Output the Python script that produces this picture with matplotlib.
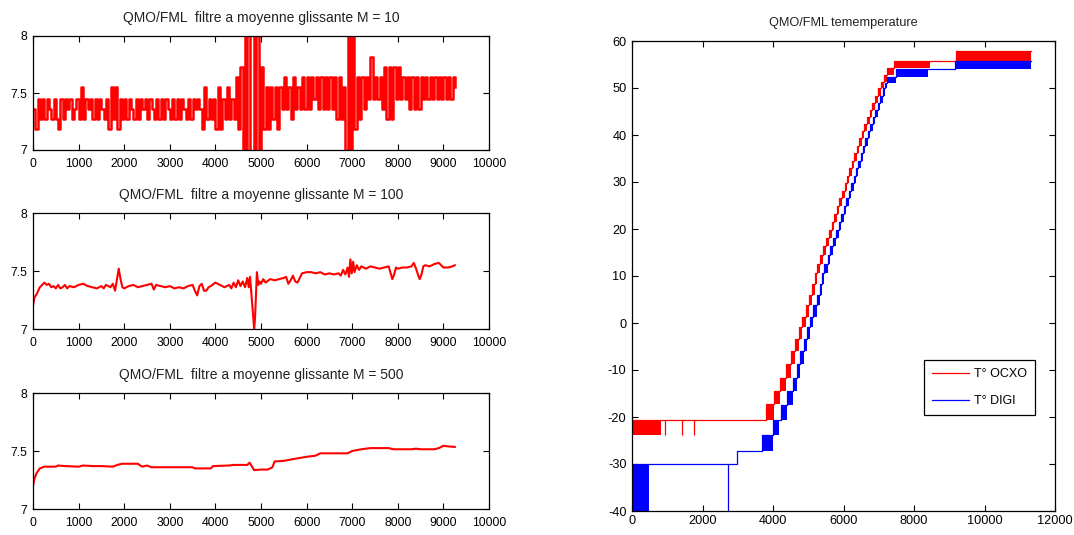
import numpy as np
import matplotlib
matplotlib.use("Agg")
import matplotlib.pyplot as plt

plt.rcParams['font.family'] = ['Liberation Sans', 'DejaVu Sans']
plt.rcParams['axes.unicode_minus'] = False

# ---- left column: QMO/FML after moving-average filters ----
# M = 10 : quantised signal, one reading every 50 samples
m10_step = 50
m10_y = [
    7.36, 7.18, 7.45, 7.27, 7.45, 7.27, 7.45, 7.36, 7.27, 7.45,
    7.27, 7.18, 7.45, 7.27, 7.45, 7.36, 7.45, 7.27, 7.36, 7.45,
    7.27, 7.55, 7.27, 7.45, 7.36, 7.45, 7.27, 7.45, 7.27, 7.45,
    7.36, 7.27, 7.45, 7.18, 7.55, 7.27, 7.55, 7.18, 7.45, 7.27,
    7.45, 7.27, 7.45, 7.36, 7.27, 7.45, 7.27, 7.45, 7.36, 7.45,
    7.27, 7.45, 7.36, 7.27, 7.45, 7.27, 7.45, 7.27, 7.45, 7.36,
    7.27, 7.45, 7.27, 7.45, 7.27, 7.45, 7.36, 7.27, 7.45, 7.27,
    7.45, 7.36, 7.45, 7.36, 7.18, 7.55, 7.27, 7.45, 7.27, 7.45,
    7.18, 7.55, 7.18, 7.45, 7.27, 7.55, 7.27, 7.45, 7.27, 7.64,
    7.18, 7.73, 6.8, 8.2, 6.8, 8.2, 8.3, 6.8, 8.2, 6.9,
    7.73, 7.18, 7.55, 7.18, 7.55, 7.27, 7.55, 7.18, 7.55, 7.36,
    7.64, 7.36, 7.55, 7.27, 7.64, 7.36, 7.55, 7.36, 7.64, 7.36,
    7.64, 7.36, 7.64, 7.45, 7.64, 7.36, 7.64, 7.36, 7.64, 7.36,
    7.64, 7.36, 7.64, 7.27, 7.64, 7.27, 7.55, 6.8, 8.2, 6.8,
    8.2, 7.18, 7.64, 7.27, 7.64, 7.36, 7.64, 7.45, 7.82, 7.45,
    7.64, 7.45, 7.64, 7.36, 7.73, 7.27, 7.73, 7.27, 7.73, 7.45,
    7.73, 7.45, 7.64, 7.45, 7.64, 7.36, 7.64, 7.36, 7.64, 7.36,
    7.64, 7.45, 7.64, 7.45, 7.64, 7.45, 7.64, 7.45, 7.64, 7.45,
    7.64, 7.45, 7.64, 7.45, 7.64, 7.55,
]

# M = 100
m100_x = [0, 30, 80, 150, 250, 300, 350, 400, 450, 500,
          550, 600, 650, 700, 750, 800, 900, 1000, 1100, 1200,
          1300, 1400, 1500, 1550, 1600, 1700, 1750, 1800, 1850, 1880,
          1920, 1960, 2000, 2100, 2200, 2300, 2400, 2500, 2600, 2650,
          2700, 2800, 2900, 3000, 3100, 3200, 3300, 3400, 3500, 3550,
          3600, 3650, 3700, 3750, 3800, 3850, 3900, 4000, 4100, 4200,
          4300, 4350, 4400, 4450, 4500, 4550, 4600, 4650, 4700, 4730,
          4760, 4790, 4820, 4850, 4870, 4890, 4910, 4940, 4970, 5000,
          5050, 5100, 5200, 5300, 5400, 5500, 5550, 5600, 5650, 5700,
          5750, 5800, 5850, 5900, 6000, 6100, 6200, 6300, 6400, 6500,
          6600, 6700, 6750, 6800, 6850, 6900, 6930, 6960, 6990, 7020,
          7050, 7100, 7150, 7200, 7300, 7400, 7500, 7600, 7700, 7800,
          7850, 7880, 7920, 7960, 8000, 8100, 8200, 8300, 8350, 8400,
          8450, 8480, 8520, 8560, 8600, 8700, 8800, 8900, 9000, 9100,
          9200, 9250]
m100_y = [7.20, 7.27, 7.30, 7.36, 7.40, 7.38, 7.39, 7.36, 7.37, 7.35,
          7.38, 7.35, 7.36, 7.38, 7.35, 7.37, 7.36, 7.38, 7.39, 7.37,
          7.36, 7.35, 7.37, 7.35, 7.38, 7.36, 7.39, 7.33, 7.45, 7.52,
          7.43, 7.36, 7.35, 7.37, 7.38, 7.36, 7.37, 7.38, 7.39, 7.34,
          7.38, 7.37, 7.36, 7.37, 7.35, 7.36, 7.35, 7.37, 7.38, 7.33,
          7.29, 7.37, 7.39, 7.33, 7.33, 7.36, 7.37, 7.40, 7.38, 7.36,
          7.38, 7.35, 7.40, 7.36, 7.42, 7.37, 7.41, 7.36, 7.44, 7.36,
          7.45, 7.30, 7.15, 7.00, 7.10, 7.30, 7.49, 7.38, 7.41, 7.39,
          7.43, 7.40, 7.43, 7.42, 7.43, 7.44, 7.45, 7.39, 7.42, 7.46,
          7.41, 7.40, 7.44, 7.48, 7.49, 7.49, 7.48, 7.49, 7.47, 7.48,
          7.47, 7.48, 7.46, 7.51, 7.47, 7.53, 7.45, 7.60, 7.48, 7.58,
          7.49, 7.55, 7.51, 7.54, 7.52, 7.54, 7.53, 7.52, 7.53, 7.54,
          7.47, 7.43, 7.47, 7.53, 7.52, 7.53, 7.53, 7.54, 7.57, 7.52,
          7.46, 7.43, 7.47, 7.54, 7.55, 7.54, 7.56, 7.57, 7.53, 7.53,
          7.54, 7.55]

# M = 500
m500_x = [0, 30, 80, 150, 250, 500, 550, 700, 1000, 1100,
          1300, 1500, 1750, 1850, 1950, 2300, 2350, 2400, 2500, 2600,
          3500, 3550, 3900, 3950, 4300, 4400, 4700, 4750, 4850, 5000,
          5150, 5250, 5300, 5500, 5700, 6000, 6200, 6300, 6700, 6900,
          7000, 7200, 7400, 7800, 7900, 8300, 8400, 8500, 8800, 8900,
          9000, 9100, 9250]
m500_y = [7.20, 7.26, 7.31, 7.35, 7.365, 7.365, 7.375, 7.37, 7.365, 7.375,
          7.37, 7.37, 7.365, 7.38, 7.39, 7.39, 7.375, 7.365, 7.375, 7.36,
          7.36, 7.35, 7.35, 7.37, 7.375, 7.38, 7.38, 7.40, 7.335, 7.34,
          7.34, 7.36, 7.41, 7.415, 7.43, 7.45, 7.46, 7.48, 7.48, 7.48,
          7.50, 7.515, 7.525, 7.525, 7.515, 7.515, 7.52, 7.515, 7.515, 7.525,
          7.545, 7.54, 7.535]

# ---- right: temperatures, quantised staircase ----
# each block starts at *_x[i], spans *_lo[i]..*_hi[i] until *_x[i+1]
ocxo_x = [0, 830, 3790, 4040, 4200, 4370, 4510, 4620, 4750, 4830,
          4940, 5030, 5110, 5180, 5250, 5340, 5420, 5500, 5580, 5660,
          5730, 5810, 5880, 5960, 6030, 6100, 6170, 6240, 6310, 6380,
          6450, 6520, 6590, 6670, 6740, 6820, 6900, 6980, 7060, 7140,
          7220, 7420, 8450, 9200, 11320]
ocxo_lo = [-23.8, -20.7, -20.7, -17.3, -14.4, -11.6, -8.7, -5.9, -3.4, -0.9,
           1.3, 3.8, 6.0, 8.4, 10.6, 12.6, 14.5, 16.3, 18.1, 19.8,
           21.5, 23.2, 24.9, 26.5, 28.1, 29.7, 31.3, 32.9, 34.5, 36.1,
           37.7, 39.3, 40.9, 42.4, 43.9, 45.4, 46.9, 48.4, 49.9, 51.3,
           52.7, 54.2, 55.7, 55.7]
ocxo_hi = [-20.7, -20.7, -17.3, -14.4, -11.6, -8.7, -5.9, -3.4, -0.9, 1.3,
           3.8, 6.0, 8.4, 10.6, 12.6, 14.5, 16.3, 18.1, 19.8, 21.5,
           23.2, 24.9, 26.5, 28.1, 29.7, 31.3, 32.9, 34.5, 36.1, 37.7,
           39.3, 40.9, 42.4, 43.9, 45.4, 46.9, 48.4, 49.9, 51.3, 52.7,
           54.2, 55.7, 55.7, 57.8]
ocxo_spike_x = [950, 1430, 1750]
ocxo_spike_lo = -23.8

digi_x = [0, 470, 2970, 3680, 4010, 4170, 4230, 4390, 4560, 4680,
          4780, 4880, 4960, 5050, 5140, 5240, 5330, 5400, 5460, 5550,
          5630, 5710, 5790, 5860, 5940, 6010, 6080, 6150, 6220, 6290,
          6350, 6420, 6490, 6560, 6620, 6690, 6760, 6830, 6900, 6970,
          7040, 7110, 7170, 7230, 7480, 8400, 9160, 11320]
digi_lo = [-43, -30, -27.2, -27.2, -23.9, -20.7, -20.7, -17.4, -14.4, -11.6,
           -8.7, -5.9, -3.4, -0.9, 1.3, 3.8, 6.0, 8.4, 10.6, 12.6,
           14.5, 16.3, 18.1, 19.8, 21.5, 23.2, 24.9, 26.5, 28.1, 29.7,
           31.3, 32.9, 34.5, 36.1, 37.7, 39.3, 40.9, 42.4, 43.9, 45.4,
           46.9, 48.4, 49.9, 51.0, 52.3, 54.1, 54.1]
digi_hi = [-30, -30, -27.2, -23.9, -20.7, -20.7, -17.4, -14.4, -11.6, -8.7,
           -5.9, -3.4, -0.9, 1.3, 3.8, 6.0, 8.4, 10.6, 12.6, 14.5,
           16.3, 18.1, 19.8, 21.5, 23.2, 24.9, 26.5, 28.1, 29.7, 31.3,
           32.9, 34.5, 36.1, 37.7, 39.3, 40.9, 42.4, 43.9, 45.4, 46.9,
           48.4, 49.9, 51.0, 52.3, 54.1, 54.1, 55.7]
digi_spike_x = [2730]
digi_spike_lo = -43

left_titles = ['QMO/FML  filtre a moyenne glissante M = 10',
               'QMO/FML  filtre a moyenne glissante M = 100',
               'QMO/FML  filtre a moyenne glissante M = 500']

W, H = 1074, 535
fig = plt.figure(figsize=(W / 100, H / 100), dpi=100)


def px_axes(x0, y0, x1, y1):
    return fig.add_axes([x0 / W, 1 - y1 / H, (x1 - x0) / W, (y1 - y0) / H])


def matlab_style(ax, size):
    ax.tick_params(direction='in', top=True, right=True, length=4, width=0.8,
                   labelsize=size, pad=4, colors='black')
    for s in ax.spines.values():
        s.set_linewidth(0.9)


ax1 = px_axes(33, 36, 489, 150)
ax2 = px_axes(33, 213, 489, 329)
ax3 = px_axes(33, 393, 489, 509)
ax4 = px_axes(632, 41, 1055, 511)

m10_x = np.arange(len(m10_y)) * m10_step
ax1.plot(m10_x, m10_y, color='red', lw=1.8, drawstyle='steps-post')
ax2.plot(m100_x, m100_y, color='red', lw=1.5)
ax3.plot(m500_x, m500_y, color='red', lw=1.5)

for ax, t in zip([ax1, ax2, ax3], left_titles):
    ax.set_xlim(0, 10000)
    ax.set_ylim(7, 8)
    ax.set_xticks(np.arange(0, 10001, 1000))
    ax.set_yticks([7, 7.5, 8])
    ax.set_yticklabels(['7', '7.5', '8'])
    ax.set_title(t, fontsize=10, pad=10, color='#222222')
    matlab_style(ax, 8.8)
    ax.tick_params(axis='x', pad=6)

# temperature plot
for xs, lo, hi, col, lab in [(ocxo_x, ocxo_lo, ocxo_hi, 'red', 'T° OCXO'),
                             (digi_x, digi_lo, digi_hi, 'blue', 'T° DIGI')]:
    lo_e = list(lo) + [lo[-1]]
    hi_e = list(hi) + [hi[-1]]
    ax4.fill_between(xs, lo_e, hi_e, step='post', color=col, lw=0)
    ax4.plot(xs, hi_e, drawstyle='steps-post', color=col, lw=0.9, label=lab)

ax4.vlines(ocxo_spike_x, ocxo_spike_lo, ocxo_hi[1], color='red', lw=0.9)
ax4.vlines(digi_spike_x, digi_spike_lo, digi_hi[1], color='blue', lw=0.9)

ax4.set_xlim(0, 12000)
ax4.set_ylim(-40, 60)
ax4.set_xticks(np.arange(0, 12001, 2000))
ax4.set_yticks(np.arange(-40, 61, 10))
ax4.set_title('QMO/FML tememperature', fontsize=9.2, pad=11, color='#222222')
matlab_style(ax4, 9.2)
ax4.tick_params(axis='x', pad=3)

leg = ax4.legend(loc='upper left', bbox_to_anchor=(0.690, 0.321), borderaxespad=0,
                 fontsize=9, handlelength=3.0, handletextpad=0.35,
                 borderpad=0.65, labelspacing=1.2, fancybox=False,
                 framealpha=1, edgecolor='black')
leg.get_frame().set_linewidth(0.9)

fig.savefig('out.png', dpi=100)
